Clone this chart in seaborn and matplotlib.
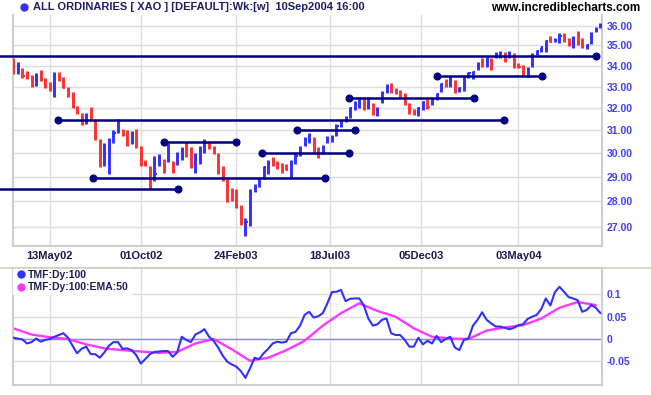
import numpy as np
import pandas as pd
import matplotlib
matplotlib.use('Agg')
import matplotlib.pyplot as plt
import matplotlib.dates as mdates
from matplotlib.ticker import FixedLocator, FormatStrFormatter, NullLocator
from matplotlib.lines import Line2D
import seaborn as sns

# weekly bars, ALL ORDINARIES, Mar 2002 - Sep 2004
first_week = '2002-03-18'
high = [34.40, 34.20, 33.90, 33.75, 33.55, 33.65, 33.80, 33.40, 33.20, 33.72,
        33.70, 33.45, 33.00, 32.75, 32.08, 31.78, 31.78, 32.05, 31.50, 30.60,
        30.43, 30.65, 31.00, 31.50, 31.05, 31.00, 30.97, 31.05, 30.29, 29.70,
        29.47, 29.86, 29.97, 29.75, 30.43, 29.67, 30.05, 30.27, 30.47, 30.25,
        30.00, 30.31, 30.60, 30.53, 30.31, 30.02, 29.46, 28.90, 28.55, 28.50,
        27.87, 27.33, 28.50, 28.70, 28.97, 29.47, 29.73, 29.85, 29.66, 29.60,
        29.53, 29.73, 30.00, 30.29, 30.70, 30.90, 30.69, 30.25, 30.34, 30.74,
        30.78, 31.27, 31.48, 31.63, 32.07, 32.31, 32.52, 32.52, 32.52, 32.24,
        32.07, 32.78, 33.10, 33.19, 32.94, 32.86, 32.70, 32.24, 31.95, 32.07,
        32.35, 32.40, 32.46, 32.70, 33.15, 33.36, 33.52, 33.31, 33.00, 33.47,
        33.71, 33.74, 34.19, 34.36, 34.44, 34.36, 34.66, 34.72, 34.66, 34.72,
        34.61, 34.11, 34.03, 33.95, 34.61, 34.77, 34.94, 35.27, 35.49, 35.39,
        35.61, 35.61, 35.36, 35.49, 35.73, 35.36, 35.06, 35.69, 35.95, 36.12]
low = [33.60, 33.60, 33.40, 33.35, 33.00, 33.05, 33.25, 32.95, 32.78, 32.52,
       33.27, 32.92, 32.50, 32.00, 31.74, 31.22, 31.30, 31.45, 30.57, 29.40,
       29.45, 29.10, 30.43, 30.87, 30.75, 30.33, 30.40, 30.22, 29.46, 29.45,
       28.50, 28.85, 29.46, 29.17, 29.63, 29.17, 29.50, 29.70, 29.85, 29.37,
       29.17, 29.53, 30.00, 30.20, 29.97, 29.10, 28.82, 27.96, 28.00, 27.74,
       27.07, 26.66, 27.03, 28.37, 28.60, 28.93, 29.14, 29.46, 29.33, 29.17,
       29.28, 28.97, 29.53, 29.86, 30.29, 30.43, 29.95, 29.78, 29.96, 30.43,
       30.50, 30.74, 31.15, 31.38, 31.57, 31.92, 32.00, 31.92, 31.95, 31.70,
       31.63, 32.24, 32.70, 32.70, 32.63, 32.45, 32.15, 31.75, 31.70, 31.65,
       31.90, 31.95, 32.15, 32.38, 32.73, 32.97, 33.00, 32.71, 32.74, 32.80,
       33.39, 33.36, 33.79, 33.95, 33.95, 33.79, 34.36, 34.36, 34.19, 34.36,
       33.90, 33.90, 33.52, 33.47, 33.95, 34.53, 34.66, 34.69, 35.15, 35.19,
       35.11, 35.19, 34.99, 34.89, 35.02, 34.86, 34.82, 35.06, 35.69, 35.90]
close = [33.70, 34.00, 33.50, 33.40, 33.05, 33.50, 33.30, 33.05, 32.85, 33.60,
         33.35, 32.95, 32.55, 32.10, 31.80, 31.30, 31.70, 31.50, 30.65, 29.45,
         30.00, 30.50, 30.90, 31.40, 30.80, 30.40, 30.85, 30.30, 29.60, 29.50,
         28.60, 29.10, 29.80, 29.25, 30.30, 29.25, 29.90, 30.10, 29.95, 29.45,
         29.80, 30.20, 30.45, 30.25, 30.00, 29.20, 28.90, 28.10, 28.05, 27.80,
         27.15, 27.20, 28.30, 28.60, 28.90, 29.40, 29.60, 29.50, 29.40, 29.35,
         29.30, 29.60, 29.90, 30.20, 30.60, 30.80, 30.05, 29.85, 30.25, 30.65,
         30.70, 31.20, 31.40, 31.55, 32.00, 32.20, 32.45, 32.00, 32.40, 31.75,
         31.95, 32.70, 33.00, 32.80, 32.70, 32.50, 32.20, 31.80, 31.75, 32.00,
         32.30, 32.05, 32.40, 32.65, 33.10, 33.05, 33.40, 32.80, 32.95, 33.40,
         33.65, 33.70, 34.10, 34.00, 34.35, 33.85, 34.60, 34.65, 34.25, 34.60,
         34.00, 33.95, 33.60, 33.85, 34.50, 34.70, 34.90, 35.20, 35.17, 35.30,
         35.50, 35.25, 35.05, 35.40, 35.10, 34.90, 35.00, 35.60, 35.85, 36.05]

# support / resistance lines drawn on the chart
line_price = [34.49, 31.45, 30.47, 30.00, 28.94, 28.50, 31.00, 32.47, 33.50]
line_start = ['2002-02-25', '2002-05-25', '2002-11-05', '2003-04-05', '2002-07-18',
              '2002-02-25', '2003-05-29', '2003-08-17', '2003-12-30']
line_end = ['2004-08-31', '2004-04-10', '2003-02-24', '2003-08-17', '2003-07-11',
            '2002-11-27', '2003-08-25', '2004-02-24', '2004-06-08']

# Twiggs money flow (weekly readings) and its 50 EMA (every 4 weeks)
tmf = [0.003, 0.001, -0.001, -0.010, -0.007, 0.001, -0.006, -0.002, 0.000, 0.005,
       0.009, 0.013, 0.003, -0.015, -0.032, -0.022, -0.017, -0.034, -0.034, -0.042,
       -0.030, -0.015, -0.007, -0.007, -0.022, -0.021, -0.025, -0.036, -0.055, -0.045,
       -0.034, -0.029, -0.028, -0.027, -0.027, -0.040, -0.030, 0.005, -0.002, -0.007,
       0.010, 0.015, 0.022, 0.005, -0.004, -0.019, -0.037, -0.051, -0.057, -0.062,
       -0.072, -0.087, -0.066, -0.042, -0.045, -0.032, -0.022, -0.010, -0.006, -0.008,
       -0.006, 0.013, 0.016, 0.030, 0.054, 0.061, 0.048, 0.051, 0.058, 0.080,
       0.105, 0.106, 0.110, 0.085, 0.090, 0.091, 0.091, 0.076, 0.046, 0.030,
       0.033, 0.043, 0.046, 0.013, 0.009, 0.009, -0.002, -0.017, -0.017, 0.003,
       -0.012, -0.004, -0.010, 0.007, -0.007, 0.000, 0.005, -0.019, -0.025, -0.002,
       0.001, 0.030, 0.043, 0.060, 0.043, 0.035, 0.028, 0.028, 0.025, 0.022,
       0.025, 0.031, 0.033, 0.045, 0.050, 0.054, 0.067, 0.091, 0.075, 0.105,
       0.117, 0.106, 0.094, 0.091, 0.087, 0.061, 0.065, 0.076, 0.070, 0.058]
tmf_ema = [0.024, 0.010, 0.004, 0.000, -0.012, -0.021, -0.025, -0.028, -0.031,
           -0.029, -0.010, 0.000, -0.023, -0.049, -0.042, -0.025, -0.004, 0.030,
           0.058, 0.080, 0.063, 0.050, 0.024, 0.005, 0.001, 0.000, 0.019, 0.026,
           0.031, 0.046, 0.070, 0.083, 0.076]

price_ticks = [27, 28, 29, 30, 31, 32, 33, 34, 35, 36]
tmf_ticks = [0.1, 0.05, 0, -0.05]
tmf_tick_labels = ['0.1', '0.05', '0', '-0.05']
date_ticks = ['2002-05-13', '2002-10-01', '2003-02-24', '2003-07-18', '2003-12-05', '2004-05-03']

BLUE = '#3030ff'
RED = '#ff3030'
NAVY = '#000080'
MAGENTA = '#ff38ff'
GRID = '#dddddd'
LABEL_BLUE = '#4040f0'

sns.set_style('white')
plt.rcParams['font.family'] = ['Liberation Sans', 'DejaVu Sans']
plt.rcParams['font.weight'] = 'bold'

weeks = pd.date_range(first_week, periods=len(close), freq='7D')
ema_weeks = pd.date_range(first_week, periods=len(tmf_ema), freq='28D')

W, H = 651, 395
fig = plt.figure(figsize=(W / 100, H / 100), dpi=100)
ax = fig.add_axes([12.7 / W, 1 - 246 / H, 589 / W, 231 / H])
ax2 = fig.add_axes([12.7 / W, 1 - 385 / H, 589 / W, 117 / H], sharex=ax)

# ---- price panel
close_arr = np.array(close)
up = np.r_[False, np.diff(close_arr) > 0]
colors = np.where(up, BLUE, RED)
ax.vlines(weeks, low, high, colors=colors, lw=2.1, zorder=3)
ax.hlines(close, weeks, weeks + pd.Timedelta(days=3.2), colors=colors, lw=1.4, zorder=3)

for p, s, e in zip(line_price, line_start, line_end):
    s, e = pd.Timestamp(s), pd.Timestamp(e)
    ax.plot([s, e], [p, p], color=NAVY, lw=1.8, clip_on=False, zorder=4)
    ax.plot([e], [p], 'o', color=NAVY, ms=4.8, clip_on=False, zorder=4)
    if s >= weeks[0]:
        ax.plot([s], [p], 'o', color=NAVY, ms=4.8, zorder=4)

ax.set_yscale('log')
ax.set_ylim(26.27, 36.56)
ax.yaxis.set_major_locator(FixedLocator(price_ticks))
ax.yaxis.set_major_formatter(FormatStrFormatter('%.2f'))
ax.yaxis.set_minor_locator(NullLocator())
ax.yaxis.set_minor_formatter(plt.NullFormatter())
ax.yaxis.tick_right()
ax.grid(True, color=GRID, lw=1, zorder=0)
ax.set_axisbelow(True)

# ---- TMF panel
sns.lineplot(x=weeks, y=tmf, ax=ax2, color=BLUE, lw=1.5, zorder=3)
sns.lineplot(x=ema_weeks, y=tmf_ema, ax=ax2, color=MAGENTA, lw=1.7, zorder=2)
ax2.axhline(0, color='#8c8cd8', lw=1, zorder=1)
ax2.set_ylim(-0.1031, 0.1592)
ax2.yaxis.set_major_locator(FixedLocator(tmf_ticks))
ax2.set_yticklabels(tmf_tick_labels)
ax2.yaxis.tick_right()
ax2.grid(True, color=GRID, lw=1, zorder=0)
ax2.set_axisbelow(True)
ax2.set_xlabel('')
ax2.set_ylabel('')

handles = [Line2D([], [], marker='o', ls='', color=BLUE, ms=5),
           Line2D([], [], marker='o', ls='', color=MAGENTA, ms=5)]
leg = ax2.legend(handles, ['TMF:Dy:100', 'TMF:Dy:100:EMA:50'], loc='upper left',
                 bbox_to_anchor=(0.0, 1.0), frameon=True, fancybox=False,
                 facecolor='white', edgecolor='white', framealpha=1,
                 prop={'size': 7.5, 'weight': 'bold'}, handletextpad=0.1,
                 handlelength=1.2, borderpad=0.2, labelspacing=0.2, borderaxespad=0.0)
for t in leg.get_texts():
    t.set_color('#1e1e50')

# shared x axis: dates
ax.set_xlim(weeks[0] - pd.Timedelta(days=1), weeks[-1] + pd.Timedelta(days=2))
ax.xaxis.set_major_locator(FixedLocator(mdates.date2num(pd.to_datetime(date_ticks))))
ax.xaxis.set_major_formatter(mdates.DateFormatter('%d%b%y'))
ax.tick_params(axis='x', length=0, pad=3.5, labelsize=8, labelcolor='#1a1a50')
ax2.tick_params(axis='x', labelbottom=False, length=0)
for a in (ax, ax2):
    a.tick_params(axis='y', length=0, pad=3.8, labelsize=7.5, labelcolor=LABEL_BLUE)
    for side in ('left', 'right', 'bottom', 'top'):
        a.spines[side].set_color('#cfcfcf')
        a.spines[side].set_linewidth(1.5)
ax.spines['top'].set_visible(False)

# header texts and panel separator
fig.add_artist(Line2D([24 / W], [1 - 7 / H], marker='o', color=BLUE, ms=5,
                      transform=fig.transFigure))
fig.text(33 / W, 1 - 7 / H, 'ALL ORDINARIES [ XAO ] [DEFAULT]:Wk:[w]  10Sep2004 16:00',
         color='#1e1e64', fontsize=8, weight='bold', va='center')
fig.text(640 / W, 1 - 8 / H, 'www.incrediblecharts.com', color='black',
         fontsize=8.5, weight='bold', va='center', ha='right')
fig.add_artist(Line2D([0, 1], [1 - 268 / H, 1 - 268 / H], color='#d4d0c0', lw=1.2,
                      transform=fig.transFigure))

fig.savefig('out.png', dpi=100)
